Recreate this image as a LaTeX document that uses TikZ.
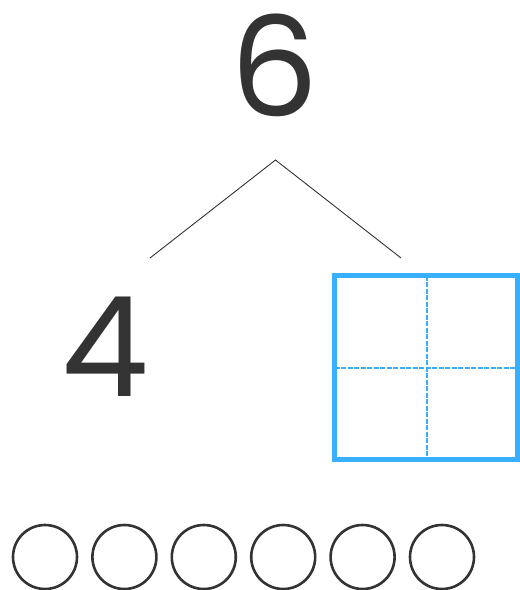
\documentclass[tikz,border=0pt]{standalone}
\usepackage{fontspec}
\newfontfamily\digitfont{Poppins}
\definecolor{ink}{HTML}{333333}
\definecolor{boxblue}{HTML}{38B0FF}
\begin{document}
\begin{tikzpicture}[x=1pt,y=-1pt,
  digit/.style={inner sep=0pt, text=ink, font=\digitfont\fontsize{139}{139}\selectfont},
  branch/.style={draw=ink, line width=0.9pt},
  answerbox/.style={draw=boxblue, line width=5pt},
  gridline/.style={draw=boxblue, line width=1.3pt, dash pattern=on 5pt off 1.5pt},
  counter/.style={circle, draw=ink, line width=2.6pt, minimum size=64pt, inner sep=0pt}]
\useasboundingbox (0,0) rectangle (520,590);
\node[digit] (six) at (275,65) {6};
\node[digit] (four) at (105,346.5) {4};
\coordinate (apex) at (275.5,160);
\coordinate (lend) at (150,258);
\coordinate (rend) at (401,258);
\draw[branch] (lend) -- (apex) -- (rend);
\node[answerbox, minimum width=183pt, minimum height=184pt, inner sep=0pt] (box) at (426,367.5) {};
\draw[gridline] ([xshift=1pt,yshift=-2.5pt]box.north) -- ([xshift=1pt,yshift=2.5pt]box.south);
\draw[gridline] ([xshift=2.5pt,yshift=-0.5pt]box.west) -- ([xshift=-2.5pt,yshift=-0.5pt]box.east);
\foreach \i in {0,...,5}{
  \node[counter] (c\i) at (45+79.4*\i,557) {};
}
\end{tikzpicture}
\end{document}
